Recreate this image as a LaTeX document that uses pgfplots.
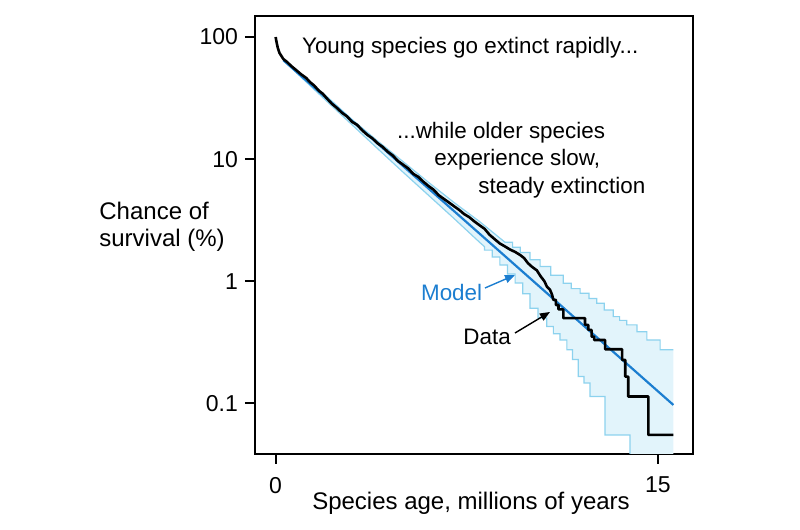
\documentclass[border=0pt]{standalone}
\usepackage{fontspec}
\setmainfont{Liberation Sans}
\usepackage{pgfplots}
\usepackage{pgfplotstable}
\pgfplotsset{compat=1.18}
\usepgfplotslibrary{fillbetween}
\usetikzlibrary{arrows.meta}
\definecolor{bandfill}{RGB}{226,244,251}
\definecolor{bandedge}{RGB}{140,210,238}
\definecolor{modelblue}{RGB}{28,126,208}

\pgfplotstableread{
x y
0.3 64.6
1 49.0
2 32.7
3 21.1
4 14.1
5 9.55
6 6.46
7 4.42
8 3.09
9.0 2.09
9.3 2.09
9.3 1.90
9.6 1.90
9.6 1.72
9.98 1.72
9.98 1.50
10.38 1.50
10.38 1.32
10.8 1.32
10.8 1.12
11.29 1.12
11.29 0.964
11.6 0.964
11.6 0.871
11.95 0.871
11.95 0.798
12.3 0.798
12.3 0.724
12.6 0.724
12.6 0.661
12.9 0.661
12.9 0.582
13.25 0.582
13.25 0.514
13.5 0.514
13.5 0.479
13.78 0.479
13.78 0.440
14.18 0.440
14.18 0.387
14.57 0.387
14.57 0.331
15.09 0.331
15.09 0.275
15.61 0.275
}\upperbandtab

\pgfplotstableread{
x y
0.3 64.6
1 46.9
2 29.9
3 19.1
4 12.2
5 7.83
6 5.06
7 3.27
8 2.09
8.2 1.92
8.2 1.80
8.5 1.80
8.5 1.58
8.8 1.58
8.8 1.36
9.1 1.36
9.1 1.15
9.4 1.15
9.4 0.97
9.7 0.97
9.7 0.79
9.98 0.79
9.98 0.603
10.3 0.603
10.3 0.501
10.64 0.501
10.64 0.427
10.9 0.427
10.9 0.372
11.16 0.372
11.16 0.331
11.43 0.331
11.43 0.275
11.65 0.275
11.65 0.229
11.88 0.229
11.88 0.166
12.1 0.166
12.1 0.147
12.34 0.147
12.34 0.114
12.93 0.114
12.93 0.0553
13.91 0.0553
13.91 0.01
15.61 0.01
}\lowerbandtab

\pgfplotstableread{
x y
0.3 64.6
15.61 0.0973
}\modeltab

\pgfplotstableread{
x y
0 100
0.03 92.3
0.08 82.2
0.15 74.1
0.3 66.1
0.45 62.4
0.6 58.2
0.8 53.7
1.0 49.5
1.2 46.2
1.35 42.7
1.5 40.3
1.7 36.3
1.85 34.3
2.0 31.6
2.2 28.5
2.4 26.3
2.6 24.0
2.8 22.4
3.0 20.2
3.2 19.1
3.4 17.2
3.6 15.8
3.8 14.8
4.0 13.5
4.2 12.6
4.4 11.5
4.6 10.7
4.8 9.66
5.0 9.02
5.2 8.41
5.4 7.59
5.6 7.16
5.8 6.53
6.0 6.03
6.2 5.62
6.4 5.07
6.6 4.73
6.8 4.42
7.0 4.12
7.2 3.85
7.4 3.55
7.6 3.35
7.8 3.09
8.0 2.88
8.2 2.69
8.4 2.40
8.6 2.21
8.8 2.04
9.0 1.93
9.2 1.82
9.4 1.74
9.6 1.64
9.75 1.55
9.9 1.41
10.05 1.32
10.25 1.23
10.4 1.10
10.55 1.00
10.65 0.902
10.77 0.851
10.85 0.776
10.90 0.705
11.0 0.705
11.0 0.64
11.1 0.64
11.1 0.589
11.29 0.589
11.29 0.50
12.14 0.50
12.14 0.44
12.27 0.44
12.27 0.40
12.4 0.40
12.4 0.353
12.5 0.353
12.5 0.331
12.93 0.331
12.93 0.278
13.6 0.278
13.6 0.227
13.72 0.227
13.72 0.166
13.84 0.166
13.84 0.114
14.63 0.114
14.63 0.0553
15.61 0.0553
}\survtab

\begin{document}
\begin{tikzpicture}
\begin{axis}[
  at={(127.5pt,38pt)}, anchor=south west,
  width=219pt, height=219pt, scale only axis,
  ymode=log,
  xmin=-0.81, xmax=16.38, ymin=0.0386, ymax=148.6,
  xtick={0,15}, xticklabels={0,15},
  ytick={0.1,1,10,100}, yticklabels={0.1,1,10,100},
  yminorticks=false, xminorticks=false,
  tick align=outside, tick pos=left,
  major tick length=5pt,
  every tick/.style={black, line width=1pt},
  axis line style={line width=1pt},
  ticklabel style={font=\fontsize{11.5}{13}\selectfont},
  xticklabel style={yshift=-3pt},
  /pgf/number format/assume math mode=true,
]
\addplot[draw=none, name path=up, forget plot] table {\upperbandtab};
\addplot[draw=none, name path=lo, forget plot] table {\lowerbandtab};
\addplot[bandfill, draw=none] fill between[of=up and lo];
\addplot[bandedge, line width=0.6pt] table {\upperbandtab};
\addplot[bandedge, line width=0.6pt] table {\lowerbandtab};
\addplot[modelblue, line width=1.1pt] table {\modeltab};
\addplot[black, line width=1.3pt, line join=round] table {\survtab};
\end{axis}
\begin{scope}[every node/.style={inner sep=0pt, font=\fontsize{11.2}{13}\selectfont}]
\node[anchor=west] at (150.85pt,241pt) {Young species go extinct rapidly...};
\node[anchor=west] at (198.35pt,198.5pt) {...while older species};
\node[anchor=west] at (217pt,185pt) {experience slow,};
\node[anchor=west] at (239pt,171.15pt) {steady extinction};
\node[anchor=west, text=modelblue] at (210.35pt,118.5pt) {Model};
\node[anchor=west] at (231.5pt,96.5pt) {Data};
\end{scope}
\draw[modelblue, line width=0.7pt, -{Triangle[length=5pt,width=4pt]}] (242.5pt,121pt) -- (257.5pt,127.5pt);
\draw[black, line width=0.7pt, -{Triangle[length=5pt,width=4pt]}] (257.5pt,98.5pt) -- (275pt,109pt);
\node[inner sep=0pt, font=\fontsize{12}{13.5}\selectfont] at (235.5pt,13.2pt) {Species age, millions of years};
\node[inner sep=0pt, anchor=west, align=left, font=\fontsize{12}{13.5}\selectfont] at (49.5pt,151.75pt) {Chance of\\survival (\%)};
\pgfresetboundingbox
\path[use as bounding box] (0,0) rectangle (400pt,265pt);
\end{tikzpicture}
\end{document}
